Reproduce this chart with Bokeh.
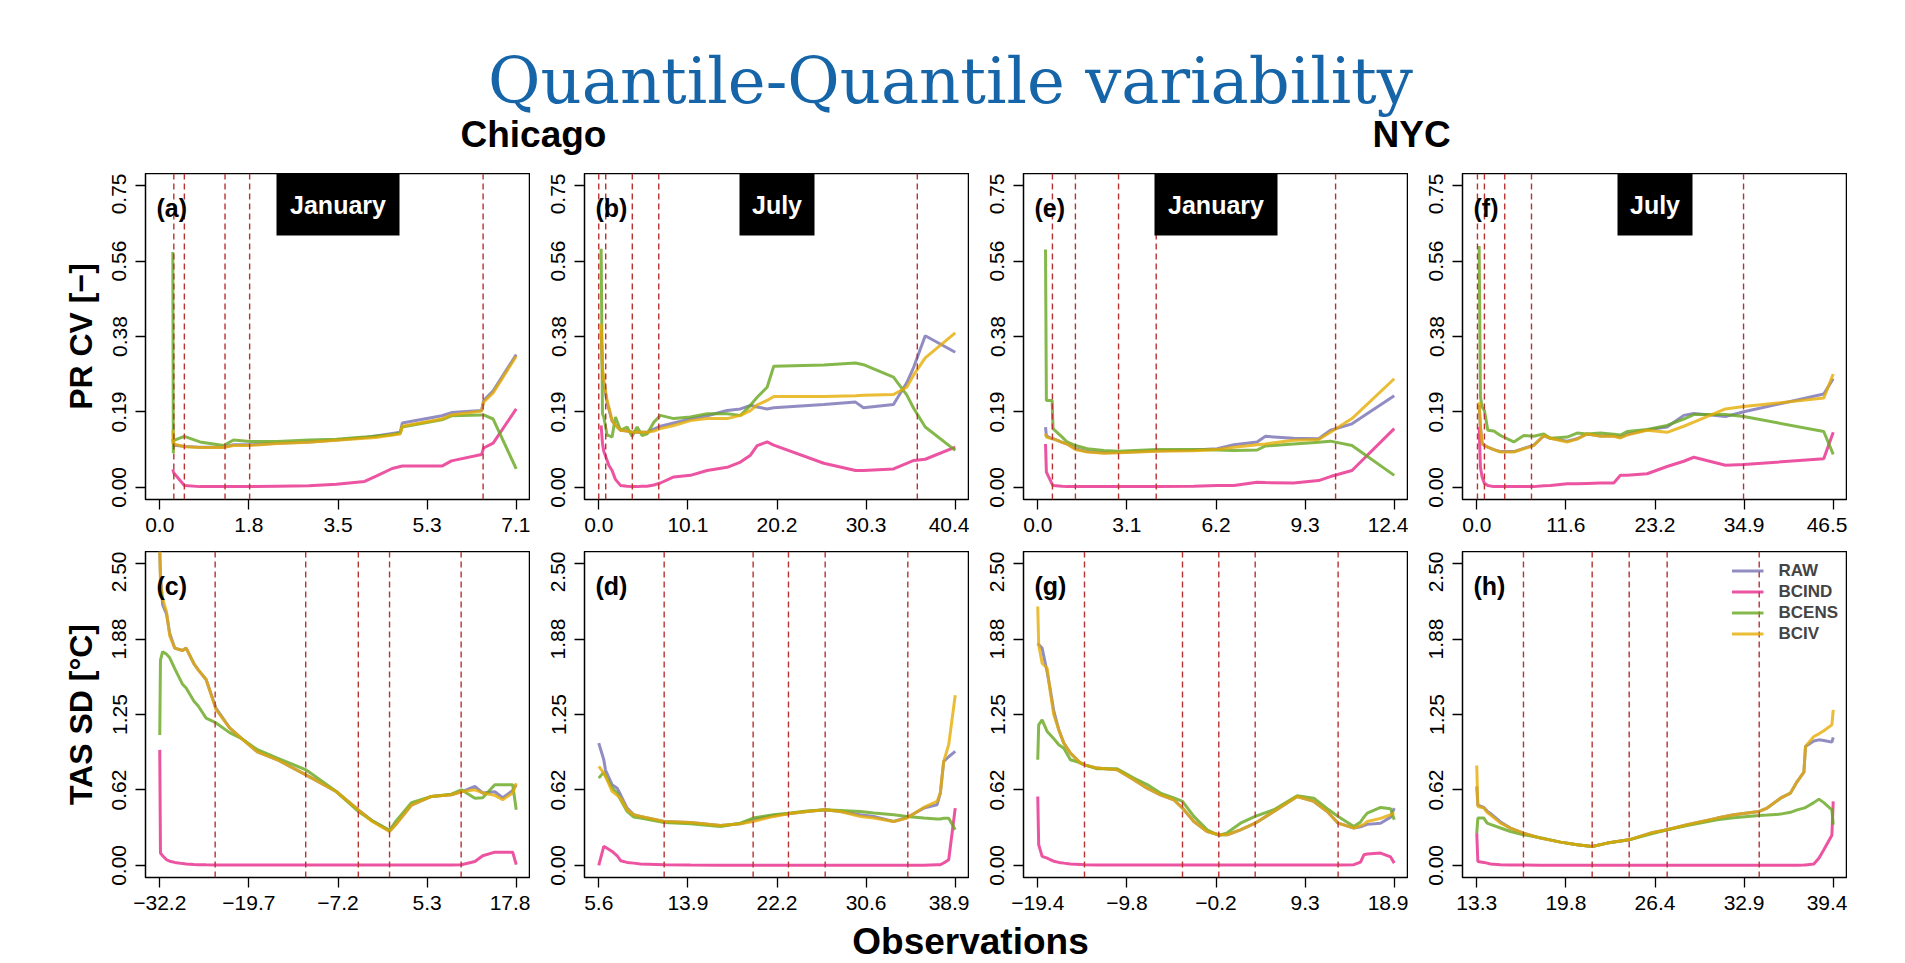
from bokeh.plotting import figure
from bokeh.layouts import column, row
from bokeh.models import Range1d, FixedTicker, Span, Label
from bokeh.embed import file_html
from bokeh.resources import INLINE
from bokeh.core.properties import value

FONT = "Liberation Sans"
SERIES = ["RAW", "BCIND", "BCENS", "BCIV"]
COLORS = ["#7570B3", "#E7298A", "#66A61E", "#E6AB02"]
DASH_COLOR = "#B83232"

PR_YLIM = [0.0, 0.75]
PR_YTICKS = [0.0, 0.1875, 0.375, 0.5625, 0.75]
PR_YLABELS = ["0.00", "0.19", "0.38", "0.56", "0.75"]
TAS_YLIM = [0.0, 2.5]
TAS_YTICKS = [0.0, 0.625, 1.25, 1.875, 2.5]
TAS_YLABELS = ["0.00", "0.62", "1.25", "1.88", "2.50"]

# ---------------- (a) Chicago PR January ----------------
A_LIM = [0.0, 7.1]
A_XLABELS = ["0.0", "1.8", "3.5", "5.3", "7.1"]
A_X = [0.26, 0.27, 0.28, 0.49, 0.80, 1.27, 1.47, 1.79, 2.34, 2.97, 3.52, 4.08, 4.31, 4.63, 4.79, 4.83, 5.62, 5.81, 6.41, 6.45, 6.64, 7.10]
A_RAW = [0.12, 0.11, 0.105, 0.102, 0.100, 0.100, 0.106, 0.106, 0.110, 0.113, 0.118, 0.124, 0.128, 0.134, 0.137, 0.160, 0.178, 0.186, 0.191, 0.216, 0.240, 0.330]
A_BCIND = [0.045, 0.040, 0.036, 0.005, 0.002, 0.002, 0.002, 0.002, 0.003, 0.004, 0.008, 0.015, 0.028, 0.047, 0.052, 0.053, 0.053, 0.066, 0.082, 0.098, 0.110, 0.195]
A_BCENS = [0.585, 0.085, 0.117, 0.127, 0.113, 0.104, 0.118, 0.114, 0.114, 0.118, 0.120, 0.125, 0.128, 0.131, 0.136, 0.150, 0.168, 0.178, 0.180, 0.180, 0.170, 0.046]
A_BCIV = [0.142, 0.115, 0.108, 0.101, 0.099, 0.099, 0.104, 0.104, 0.109, 0.112, 0.117, 0.122, 0.124, 0.130, 0.133, 0.152, 0.170, 0.180, 0.190, 0.212, 0.235, 0.326]
A_DASH = [0.28, 0.49, 1.30, 1.79, 6.44]

# ---------------- (b) Chicago PR July ----------------
B_LIM = [0.0, 40.4]
B_XLABELS = ["0.0", "10.1", "20.2", "30.3", "40.4"]
B_X = [0.27, 0.42, 0.57, 0.95, 1.14, 1.51, 1.89, 2.46, 3.21, 3.78, 4.35, 4.91, 5.48, 6.24, 6.99, 8.50, 10.39, 12.28, 14.55, 16.06, 17.19, 17.95, 19.08, 19.83, 25.5, 29.1, 30.0, 33.4, 34.9, 35.7, 37.0, 40.4]
B_RAW = [0.390, 0.290, 0.260, 0.210, 0.195, 0.165, 0.155, 0.142, 0.140, 0.137, 0.138, 0.137, 0.137, 0.145, 0.152, 0.160, 0.170, 0.178, 0.191, 0.195, 0.204, 0.200, 0.195, 0.198, 0.206, 0.212, 0.198, 0.206, 0.260, 0.299, 0.377, 0.336]
B_BCIND = [0.154, 0.110, 0.090, 0.067, 0.055, 0.042, 0.020, 0.005, 0.003, 0.002, 0.002, 0.003, 0.003, 0.006, 0.011, 0.026, 0.030, 0.042, 0.050, 0.063, 0.080, 0.104, 0.113, 0.105, 0.060, 0.042, 0.042, 0.046, 0.060, 0.067, 0.070, 0.100]
B_BCENS = [0.593, 0.183, 0.175, 0.129, 0.129, 0.125, 0.175, 0.142, 0.150, 0.127, 0.150, 0.129, 0.133, 0.162, 0.179, 0.171, 0.175, 0.183, 0.183, 0.179, 0.204, 0.224, 0.249, 0.301, 0.304, 0.309, 0.305, 0.274, 0.230, 0.196, 0.150, 0.092]
B_BCIV = [0.406, 0.300, 0.266, 0.216, 0.200, 0.166, 0.155, 0.142, 0.140, 0.137, 0.138, 0.137, 0.137, 0.140, 0.146, 0.154, 0.166, 0.171, 0.171, 0.179, 0.191, 0.205, 0.216, 0.226, 0.226, 0.228, 0.229, 0.231, 0.249, 0.280, 0.322, 0.384]
B_DASH = [0.0, 0.79, 3.8, 6.8, 36.1]

# ---------------- (e) NYC PR January ----------------
E_LIM = [0.0, 12.4]
E_XLABELS = ["0.0", "3.1", "6.2", "9.3", "12.4"]
E_X = [0.27, 0.30, 0.50, 0.53, 0.85, 1.02, 1.31, 1.72, 2.30, 2.82, 4.15, 5.43, 6.24, 6.82, 7.63, 7.92, 8.90, 9.77, 10.18, 10.93, 12.40]
E_RAW = [0.150, 0.128, 0.121, 0.121, 0.112, 0.108, 0.096, 0.089, 0.086, 0.087, 0.091, 0.093, 0.096, 0.106, 0.113, 0.127, 0.122, 0.121, 0.142, 0.158, 0.228]
E_BCIND = [0.108, 0.038, 0.008, 0.005, 0.003, 0.002, 0.002, 0.002, 0.002, 0.002, 0.002, 0.003, 0.005, 0.005, 0.013, 0.012, 0.011, 0.017, 0.027, 0.042, 0.146]
E_BCENS = [0.591, 0.216, 0.216, 0.146, 0.125, 0.113, 0.104, 0.096, 0.092, 0.090, 0.094, 0.094, 0.093, 0.092, 0.093, 0.103, 0.108, 0.112, 0.115, 0.104, 0.030]
E_BCIV = [0.133, 0.125, 0.121, 0.121, 0.112, 0.108, 0.094, 0.088, 0.085, 0.086, 0.090, 0.091, 0.094, 0.100, 0.106, 0.108, 0.117, 0.119, 0.137, 0.171, 0.270]
E_DASH = [0.51, 1.31, 2.81, 4.12, 10.36]

# ---------------- (f) NYC PR July ----------------
F_LIM = [0.0, 46.5]
F_XLABELS = ["0.0", "11.6", "23.2", "34.9", "46.5"]
F_X = [0.31, 0.48, 0.70, 1.00, 1.44, 2.22, 3.09, 4.83, 6.13, 7.44, 8.74, 9.61, 11.79, 13.09, 14.39, 16.13, 17.87, 18.74, 19.61, 22.22, 24.83, 27.00, 28.31, 32.44, 34.83, 45.26, 46.50]
F_RAW = [0.205, 0.150, 0.110, 0.105, 0.100, 0.094, 0.089, 0.089, 0.097, 0.105, 0.128, 0.122, 0.115, 0.121, 0.133, 0.128, 0.128, 0.125, 0.132, 0.143, 0.150, 0.179, 0.184, 0.176, 0.188, 0.232, 0.270]
F_BCIND = [0.150, 0.050, 0.026, 0.010, 0.005, 0.002, 0.002, 0.002, 0.002, 0.002, 0.004, 0.005, 0.009, 0.009, 0.010, 0.011, 0.011, 0.030, 0.030, 0.034, 0.052, 0.065, 0.075, 0.055, 0.057, 0.071, 0.137]
F_BCENS = [0.600, 0.224, 0.200, 0.191, 0.142, 0.140, 0.129, 0.113, 0.129, 0.127, 0.133, 0.122, 0.125, 0.135, 0.133, 0.135, 0.132, 0.130, 0.139, 0.144, 0.154, 0.170, 0.181, 0.181, 0.176, 0.139, 0.082]
F_BCIV = [0.212, 0.150, 0.108, 0.104, 0.100, 0.094, 0.088, 0.088, 0.096, 0.104, 0.129, 0.122, 0.113, 0.120, 0.133, 0.127, 0.127, 0.123, 0.130, 0.142, 0.137, 0.152, 0.162, 0.195, 0.201, 0.222, 0.282]
F_DASH = [0.09, 1.0, 3.65, 7.14, 34.8]

# ---------------- (c) Chicago TAS January ----------------
C_LIM = [-32.2, 17.8]
C_XLABELS = ["\u221232.2", "\u221219.7", "\u22127.2", "5.3", "17.8"]
C_X = [-32.2, -32.1, -31.8, -31.25, -30.8, -30.1, -29.0, -28.5, -27.4, -26.8, -25.7, -24.3, -22.4, -20.7, -18.5, -15.7, -11.7, -7.4, -4.35, -2.4, 0.03, 0.9, 3.1, 5.9, 8.7, 10.1, 12.0, 13.1, 14.8, 15.9, 17.3, 17.8]
C_RAW = [2.60, 2.40, 2.16, 2.08, 1.92, 1.80, 1.78, 1.80, 1.67, 1.62, 1.54, 1.30, 1.14, 1.05, 0.94, 0.875, 0.75, 0.61, 0.46, 0.37, 0.285, 0.34, 0.50, 0.571, 0.585, 0.61, 0.654, 0.60, 0.61, 0.56, 0.62, 0.667]
C_BCIND = [0.957, 0.102, 0.080, 0.047, 0.035, 0.025, 0.015, 0.012, 0.008, 0.006, 0.005, 0.004, 0.003, 0.003, 0.003, 0.003, 0.003, 0.003, 0.003, 0.003, 0.003, 0.003, 0.003, 0.003, 0.004, 0.006, 0.033, 0.080, 0.110, 0.110, 0.110, 0.006]
C_BCENS = [1.08, 1.70, 1.77, 1.75, 1.72, 1.63, 1.50, 1.47, 1.36, 1.32, 1.22, 1.18, 1.10, 1.05, 0.958, 0.889, 0.792, 0.61, 0.447, 0.37, 0.29, 0.364, 0.52, 0.571, 0.59, 0.626, 0.557, 0.56, 0.668, 0.668, 0.668, 0.461]
C_BCIV = [2.60, 2.35, 2.21, 2.10, 1.90, 1.80, 1.78, 1.80, 1.67, 1.62, 1.54, 1.29, 1.14, 1.05, 0.94, 0.875, 0.75, 0.61, 0.46, 0.364, 0.281, 0.337, 0.50, 0.571, 0.585, 0.61, 0.626, 0.60, 0.58, 0.544, 0.60, 0.68]
C_DASH = [-24.43, -11.73, -4.35, 0.03, 10.07]

# ---------------- (d) Chicago TAS July ----------------
D_LIM = [5.6, 38.9]
D_XLABELS = ["5.6", "13.9", "22.2", "30.6", "38.9"]
D_X = [5.60, 6.07, 6.23, 6.85, 7.32, 7.64, 8.25, 8.87, 9.50, 11.71, 14.16, 16.97, 18.83, 20.02, 21.95, 23.32, 25.06, 26.74, 28.17, 30.04, 31.29, 33.15, 34.40, 35.96, 37.20, 37.51, 37.82, 38.29, 38.90]
D_RAW = [1.013, 0.875, 0.790, 0.668, 0.640, 0.585, 0.475, 0.420, 0.406, 0.364, 0.355, 0.331, 0.345, 0.378, 0.414, 0.428, 0.447, 0.461, 0.447, 0.419, 0.405, 0.364, 0.397, 0.475, 0.502, 0.600, 0.861, 0.900, 0.944]
D_BCIND = [0.000, 0.157, 0.150, 0.116, 0.080, 0.039, 0.025, 0.019, 0.012, 0.006, 0.003, 0.002, 0.002, 0.002, 0.002, 0.002, 0.002, 0.002, 0.002, 0.002, 0.002, 0.002, 0.002, 0.002, 0.006, 0.006, 0.020, 0.047, 0.475]
D_BCENS = [0.723, 0.773, 0.740, 0.640, 0.600, 0.544, 0.447, 0.400, 0.392, 0.356, 0.345, 0.323, 0.350, 0.392, 0.420, 0.433, 0.450, 0.461, 0.455, 0.447, 0.435, 0.419, 0.406, 0.392, 0.384, 0.384, 0.390, 0.390, 0.295]
D_BCIV = [0.820, 0.764, 0.740, 0.613, 0.580, 0.557, 0.461, 0.420, 0.406, 0.364, 0.355, 0.331, 0.345, 0.364, 0.406, 0.428, 0.447, 0.461, 0.447, 0.405, 0.392, 0.364, 0.392, 0.480, 0.530, 0.600, 0.861, 1.000, 1.410]
D_DASH = [11.71, 20.02, 23.32, 26.75, 34.47]

# ---------------- (g) NYC TAS January ----------------
G_LIM = [-19.4, 18.9]
G_XLABELS = ["\u221219.4", "\u22129.8", "\u22120.2", "9.3", "18.9"]
G_X = [-19.40, -19.30, -18.93, -18.39, -18.04, -17.68, -17.14, -16.60, -15.89, -14.81, -14.38, -13.02, -10.87, -9.08, -7.65, -6.22, -4.79, -3.85, -2.63, -1.20, 0.05, 0.95, 2.38, 3.96, 5.97, 8.47, 10.26, 11.70, 12.88, 14.56, 15.28, 15.64, 16.00, 17.43, 18.51, 18.90]
G_RAW = [1.840, 1.830, 1.800, 1.600, 1.450, 1.280, 1.123, 1.013, 0.930, 0.847, 0.833, 0.806, 0.792, 0.709, 0.640, 0.585, 0.544, 0.475, 0.364, 0.281, 0.254, 0.254, 0.295, 0.350, 0.447, 0.571, 0.530, 0.447, 0.350, 0.309, 0.320, 0.330, 0.340, 0.350, 0.400, 0.475]
G_BCIND = [0.571, 0.171, 0.075, 0.060, 0.047, 0.035, 0.025, 0.019, 0.012, 0.008, 0.006, 0.004, 0.003, 0.003, 0.003, 0.003, 0.003, 0.003, 0.003, 0.003, 0.003, 0.003, 0.003, 0.003, 0.003, 0.003, 0.003, 0.003, 0.003, 0.006, 0.028, 0.088, 0.095, 0.102, 0.070, 0.019]
G_BCENS = [0.875, 1.164, 1.206, 1.109, 1.080, 1.050, 1.000, 0.971, 0.875, 0.850, 0.833, 0.800, 0.800, 0.723, 0.670, 0.599, 0.560, 0.530, 0.406, 0.295, 0.248, 0.270, 0.350, 0.406, 0.461, 0.577, 0.557, 0.470, 0.406, 0.323, 0.360, 0.400, 0.433, 0.480, 0.470, 0.378]
G_BCIV = [2.144, 1.827, 1.675, 1.633, 1.427, 1.247, 1.123, 1.013, 0.930, 0.847, 0.833, 0.806, 0.792, 0.709, 0.640, 0.585, 0.544, 0.475, 0.364, 0.281, 0.254, 0.254, 0.295, 0.350, 0.447, 0.571, 0.530, 0.447, 0.350, 0.309, 0.330, 0.340, 0.364, 0.390, 0.420, 0.433]
G_DASH = [-14.38, -3.85, 0.05, 3.96, 12.87]

# ---------------- (h) NYC TAS July ----------------
H_LIM = [13.3, 39.4]
H_XLABELS = ["13.3", "19.8", "26.4", "32.9", "39.4"]
H_X = [13.30, 13.38, 13.82, 14.06, 14.30, 15.04, 15.77, 16.72, 17.96, 19.43, 20.65, 21.75, 22.85, 24.45, 26.02, 27.24, 28.70, 30.90, 32.12, 33.97, 34.56, 35.54, 36.27, 36.76, 37.25, 37.37, 37.98, 38.35, 38.71, 39.30, 39.40]
H_RAW = [0.654, 0.500, 0.480, 0.450, 0.430, 0.360, 0.309, 0.268, 0.226, 0.193, 0.171, 0.157, 0.185, 0.212, 0.268, 0.295, 0.337, 0.392, 0.419, 0.447, 0.475, 0.557, 0.599, 0.695, 0.773, 0.985, 1.030, 1.040, 1.035, 1.021, 1.060]
H_BCIND = [0.268, 0.033, 0.025, 0.019, 0.012, 0.006, 0.003, 0.003, 0.002, 0.002, 0.002, 0.002, 0.002, 0.002, 0.002, 0.002, 0.002, 0.002, 0.002, 0.002, 0.002, 0.002, 0.002, 0.002, 0.003, 0.004, 0.011, 0.060, 0.130, 0.250, 0.530]
H_BCENS = [0.268, 0.392, 0.392, 0.350, 0.340, 0.310, 0.281, 0.254, 0.230, 0.193, 0.171, 0.157, 0.185, 0.212, 0.260, 0.295, 0.330, 0.378, 0.395, 0.414, 0.418, 0.425, 0.440, 0.460, 0.475, 0.480, 0.520, 0.549, 0.520, 0.461, 0.337]
H_BCIV = [0.828, 0.488, 0.475, 0.440, 0.419, 0.350, 0.309, 0.268, 0.226, 0.193, 0.171, 0.157, 0.185, 0.212, 0.268, 0.295, 0.337, 0.392, 0.419, 0.447, 0.475, 0.557, 0.599, 0.695, 0.773, 0.985, 1.068, 1.090, 1.115, 1.164, 1.289]
H_DASH = [16.72, 21.75, 24.46, 27.24, 33.98]

FRAME_W, FRAME_H = 385, 326


def make_panel(tag, lim, xlabels, xs, ys, dashes, month, row_idx, col_idx, ylabel=None, legend=False):
    ylim = PR_YLIM if row_idx == 0 else TAS_YLIM
    yticks = PR_YTICKS if row_idx == 0 else TAS_YTICKS
    ylabels = PR_YLABELS if row_idx == 0 else TAS_YLABELS
    xs_span = lim[1] - lim[0]
    x0, x1 = lim[0] - 0.04 * xs_span, lim[1] + 0.04 * xs_span
    ys_span = ylim[1] - ylim[0]
    y0, y1 = ylim[0] - 0.04 * ys_span, ylim[1] + 0.04 * ys_span
    left_b = 145 if col_idx == 0 else 54
    bottom_b = 52 if row_idx == 0 else 44
    p = figure(width=left_b + FRAME_W, height=FRAME_H + bottom_b,
               x_range=Range1d(x0, x1), y_range=Range1d(y0, y1),
               output_backend="svg", toolbar_location=None,
               min_border_left=left_b, min_border_right=0,
               min_border_top=0, min_border_bottom=bottom_b)
    p.xgrid.visible = False
    p.ygrid.visible = False
    p.outline_line_color = "black"
    p.outline_line_width = 1.5
    p.background_fill_color = "white"
    p.border_fill_color = "white"

    xticks = [lim[0] + k * xs_span / 4.0 for k in range(5)]
    p.xaxis.ticker = FixedTicker(ticks=xticks)
    p.xaxis.major_label_overrides = {t: l for t, l in zip(xticks, xlabels)}
    p.yaxis.ticker = FixedTicker(ticks=yticks)
    p.yaxis.major_label_overrides = {t: l for t, l in zip(yticks, ylabels)}
    for ax in (p.xaxis[0], p.yaxis[0]):
        ax.axis_line_color = None
        ax.major_tick_in = 0
        ax.major_tick_out = 10
        ax.major_tick_line_color = "black"
        ax.major_tick_line_width = 1.3
        ax.minor_tick_line_color = None
        ax.major_label_text_font = FONT
        ax.major_label_text_font_size = "21px"
        ax.major_label_text_color = "black"
    p.yaxis.major_label_orientation = "vertical"
    p.yaxis.major_label_standoff = 9
    p.xaxis.major_label_standoff = 8
    if ylabel:
        p.yaxis.axis_label = ylabel
        p.yaxis.axis_label_text_font = FONT
        p.yaxis.axis_label_text_font_style = "bold"
        p.yaxis.axis_label_text_font_size = "32px"
        p.yaxis.axis_label_text_color = "black"
        p.yaxis.axis_label_standoff = 11

    for name, color, y in zip(SERIES, COLORS, ys):
        if legend:
            p.line(xs, y, line_color=color, line_width=3.0, line_alpha=0.8, legend_label=name)
        else:
            p.line(xs, y, line_color=color, line_width=3.0, line_alpha=0.8)

    for d in dashes:
        p.add_layout(Span(location=d, dimension="height", line_color=DASH_COLOR,
                          line_dash="6 4", line_width=1.4))

    if month:
        xpx = (x1 - x0) / FRAME_W
        ypx = (y1 - y0) / FRAME_H
        bw = 123 if month == "January" else 75
        xc = (x0 + x1) / 2.0
        box = p.quad(left=[xc - bw / 2.0 * xpx], right=[xc + bw / 2.0 * xpx],
                     top=[y1], bottom=[y1 - 62 * ypx], fill_color="black", line_color=None)
        box.level = "overlay"
        p.add_layout(Label(x=xc, y=y1 - 31 * ypx, text=month, text_align="center",
                           text_baseline="middle", text_color="white", text_font=FONT,
                           text_font_style="bold", text_font_size="25px", level="overlay"))

    p.add_layout(Label(x=x0, y=y1, x_offset=11, y_offset=-34, text="(" + tag + ")",
                       text_align="left", text_baseline="middle", text_color="black",
                       text_font=FONT, text_font_style="bold", text_font_size="25px"))

    if legend:
        lg = p.legend[0]
        lg.location = "top_right"
        lg.background_fill_alpha = 0
        lg.border_line_color = None
        lg.label_text_font = FONT
        lg.label_text_font_style = "bold"
        lg.label_text_font_size = "17px"
        lg.glyph_width = 32
        lg.glyph_height = 21
        lg.label_height = 21
        lg.spacing = 0
        lg.padding = 4
        lg.margin = 9
        lg.label_standoff = 15
    return p


pa = make_panel("a", A_LIM, A_XLABELS, A_X, [A_RAW, A_BCIND, A_BCENS, A_BCIV], A_DASH, "January", 0, 0, ylabel="PR CV [\u2212]")
pb = make_panel("b", B_LIM, B_XLABELS, B_X, [B_RAW, B_BCIND, B_BCENS, B_BCIV], B_DASH, "July", 0, 1)
pe = make_panel("e", E_LIM, E_XLABELS, E_X, [E_RAW, E_BCIND, E_BCENS, E_BCIV], E_DASH, "January", 0, 2)
pf = make_panel("f", F_LIM, F_XLABELS, F_X, [F_RAW, F_BCIND, F_BCENS, F_BCIV], F_DASH, "July", 0, 3)
pc = make_panel("c", C_LIM, C_XLABELS, C_X, [C_RAW, C_BCIND, C_BCENS, C_BCIV], C_DASH, None, 1, 0, ylabel="TAS SD [\u00b0C]")
pd = make_panel("d", D_LIM, D_XLABELS, D_X, [D_RAW, D_BCIND, D_BCENS, D_BCIV], D_DASH, None, 1, 1)
pg = make_panel("g", G_LIM, G_XLABELS, G_X, [G_RAW, G_BCIND, G_BCENS, G_BCIV], G_DASH, None, 1, 2)
ph = make_panel("h", H_LIM, H_XLABELS, H_X, [H_RAW, H_BCIND, H_BCENS, H_BCIV], H_DASH, None, 1, 3, legend=True)

TOTAL_W = 530 + 3 * 439

header = figure(width=TOTAL_W, height=173, x_range=Range1d(0, TOTAL_W), y_range=Range1d(173, 0),
                output_backend="svg", toolbar_location=None, min_border=0,
                x_axis_location=None, y_axis_location=None)
header.outline_line_color = None
header.grid.visible = False
header.text(x=[950], y=[80], text=["Quantile-Quantile variability"], text_font=value("DejaVu Serif"),
            text_font_size="64px", text_color="#1565A8", text_align="center", text_baseline="alphabetic")
header.text(x=[460, 1372], y=[134, 134], text=["Chicago", "NYC"], text_font=value(FONT),
            text_font_style="bold", text_font_size="37px", text_color="black",
            text_align="left", text_baseline="alphabetic")

footer = figure(width=TOTAL_W, height=42, x_range=Range1d(0, TOTAL_W), y_range=Range1d(42, 0),
                output_backend="svg", toolbar_location=None, min_border=0,
                x_axis_location=None, y_axis_location=None)
footer.outline_line_color = None
footer.grid.visible = False
footer.text(x=[970], y=[20], text=["Observations"], text_font=value(FONT), text_font_style="bold",
            text_font_size="37px", text_color="black", text_align="center", text_baseline="alphabetic")

layout = column(header, row(pa, pb, pe, pf), row(pc, pd, pg, ph), footer)
open("out.html", "w").write(file_html(layout, INLINE))
